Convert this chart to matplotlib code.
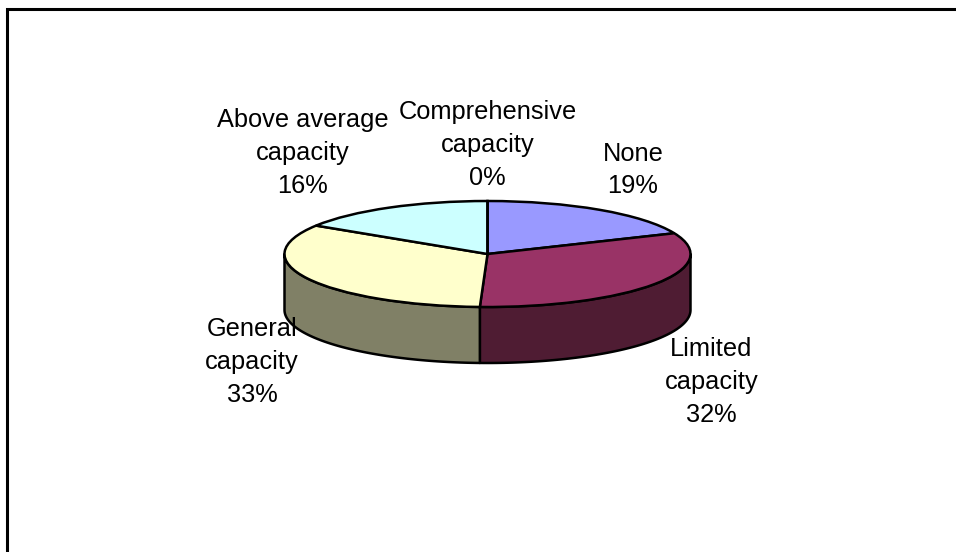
import numpy as np
import matplotlib
matplotlib.use('Agg')
import matplotlib.pyplot as plt

plt.rcParams['font.family'] = ['Liberation Sans', 'DejaVu Sans']

# clockwise from 12 o'clock, like the original spreadsheet chart
labels = ['None', 'Limited\ncapacity', 'General\ncapacity',
          'Above average\ncapacity', 'Comprehensive\ncapacity']
shares = [18.6, 32.0, 33.4, 16.0, 0]
top_colors = ['#9999FF', '#993366', '#FFFFCC', '#CCFFFF', '#660066']
wall_colors = ['#4C4C80', '#4F1C33', '#808066', '#668080', '#330033']
label_pos = [(633, 170), (711.5, 382), (252, 362), (302.5, 153), (487.5, 145)]

W, H = 956, 552
CX, CY, RX, RY, DEPTH = 487.5, 254, 203, 53, 56

fig = plt.figure(figsize=(W / 100, H / 100), dpi=100)

# frame of the chart area, in pixels; it runs off the right and bottom of the image
bg = fig.add_axes([0, 0, 1, 1])
bg.set_xlim(0, W)
bg.set_ylim(H, 0)
bg.axis('off')
bg.plot([7, 7, 956], [552, 9, 9], color='black', lw=2.2, solid_joinstyle='miter')

# unit circle squashed into an ellipse: one data unit is RX across, RY down
ax = fig.add_axes([0, 0, 1, 1])
ax.patch.set_alpha(0)
ax.pie(shares, colors=top_colors, startangle=90, counterclock=False, radius=1,
       wedgeprops={'edgecolor': 'black', 'linewidth': 1.8, 'zorder': 3})
ax.set_aspect('auto')
ax.set_xlim(-CX / RX, (W - CX) / RX)
ax.set_ylim((CY - H) / RY, CY / RY)
ax.axis('off')

# side wall, only the front half of the rim shows
drop = DEPTH / RY
edges = np.cumsum([0] + shares) / sum(shares) * 360
for i in range(len(shares)):
    start = max(edges[i], 90)
    stop = min(edges[i + 1], 270)
    if stop <= start:
        continue
    t = np.radians(np.linspace(start, stop, 80))
    x = np.sin(t)
    y = np.cos(t)
    ax.fill(np.r_[x, x[::-1]], np.r_[y, y[::-1] - drop], facecolor=wall_colors[i],
            edgecolor='black', linewidth=1.8, zorder=2, joinstyle='round')

for i in range(len(labels)):
    bg_text = f'{labels[i]}\n{shares[i]:.0f}%'
    ax.annotate(bg_text, xy=label_pos[i], xycoords=bg.transData, ha='center', va='center',
                fontsize=18.3, color='black', linespacing=1.47, zorder=5,
                annotation_clip=False)

fig.savefig('out.png', dpi=100, facecolor='white')
